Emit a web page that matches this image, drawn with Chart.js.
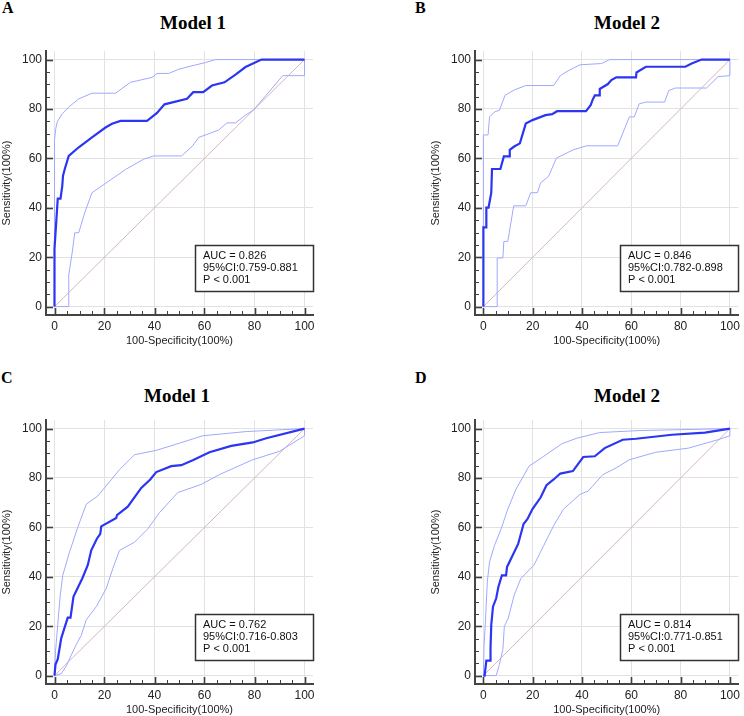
<!DOCTYPE html>
<html><head><meta charset="utf-8">
<script src="https://cdn.jsdelivr.net/npm/chart.js@4.4.1/dist/chart.umd.min.js"></script>
<style>
html,body{margin:0;padding:0;background:#fff;overflow:hidden;}
#wrap{position:relative;width:744px;height:716px;overflow:hidden;background:#fff;}
canvas{position:absolute;}
.lbl{position:absolute;font-family:"Liberation Serif","Times New Roman",serif;font-weight:bold;line-height:1;white-space:nowrap;color:#000;}
.letter{font-size:16px;}
.title{font-size:19px;transform:translateX(-50%);}
</style></head><body><div id="wrap"></div>
<script>
// ---------- data ----------
const TICK_VALUES = [0, 20, 40, 60, 80, 100];
const TICK_LABELS = ['0', '20', '40', '60', '80', '100'];
const TICK_MARKS = [0,5,10,15,20,25,30,35,40,45,50,55,60,65,70,75,80,85,90,95,100];
const X_TITLE = '100-Specificity(100%)';
const Y_TITLE = 'Sensitivity(100%)';
const DIAG = [[0,0],[100,100]];

const A_ROC = [[0,0],[0,23.5],[1.3,43.7],[2.4,43.7],[3.1,48.8],[3.4,53],[4.2,56],[5.7,61],[9.7,64.5],[15,68.5],[20.4,72.5],[23,74],[26.4,75.2],[37,75.2],[41,78.4],[44,81.9],[53,84.1],[55.5,86.8],[59.5,86.8],[63,89.5],[68,90.8],[72.4,93.9],[76.4,97],[82.8,100],[100,100]];
const A_UPPER = [[0,0],[0,67.5],[0.5,72],[1.1,74.8],[3.1,78.1],[5.7,80.8],[9.7,84.1],[15,86.4],[24.4,86.4],[30.4,90.8],[39,92.8],[41,94.4],[45.7,94.4],[49.7,96.1],[55,97.5],[60.4,98.8],[64.4,100],[100,100]];
const A_LOWER = [[0,0],[5.7,0],[5.7,12.8],[7.1,22.1],[8.1,29.9],[9.7,29.9],[12.1,38.1],[15,46.1],[21.7,50.8],[28.4,55.5],[35.7,59.7],[39.7,61],[50.8,61],[55,64.8],[57.7,68.5],[65.7,71.5],[69,74.4],[72.4,74.4],[76.4,77.5],[79.7,79.7],[91.3,93.5],[100,93.5],[100,100]];
const A_STATS = ['AUC = 0.826', '95%CI:0.759-0.881', 'P < 0.001'];

const B_ROC = [[0,0],[0,32.1],[1.2,32.1],[1.2,40.1],[2.1,40.1],[3.2,46.1],[3.5,55.7],[6.9,55.7],[8.3,60.8],[10.4,60.8],[10.7,63.5],[12.5,64.8],[14.8,66.1],[17.2,74.1],[19.9,75.5],[25.2,77.5],[27.9,77.9],[29.9,79.1],[41.6,79.1],[43.5,81.5],[44.3,83.7],[45.2,85.5],[46.9,85.5],[47.2,88.1],[50.5,90.1],[51.9,91.7],[53.9,92.8],[61.9,92.8],[62.1,94.8],[65.9,97.1],[81.9,97.1],[84.5,98.4],[88.5,100],[100,100]];
const B_UPPER = [[0,0],[0,69.5],[1.9,69.5],[2.5,76.8],[4.5,78.8],[6.5,79.5],[8.8,85.5],[12.5,87.7],[17.2,89.5],[28.5,89.5],[31.2,93.5],[33.9,95.2],[39.2,97.9],[47.9,98.4],[51.2,100],[100,100]];
const B_LOWER = [[0,0],[5.6,0],[5.6,19.7],[7.9,19.7],[8.3,26.4],[9.9,26.4],[12.3,40.8],[17.2,40.8],[19.2,46.1],[21.9,46.1],[23.2,50.1],[26.5,52.8],[29.6,60.1],[36.5,63.5],[41.9,65.1],[54.5,65.1],[59.2,76.8],[61.2,76.8],[63.2,82.1],[65.9,82.8],[73.5,82.8],[75.2,87.5],[77.9,88.5],[90.5,88.5],[95.2,93.1],[100,93.5],[100,100]];
const B_STATS = ['AUC = 0.846', '95%CI:0.782-0.898', 'P < 0.001'];

const C_ROC = [[0,0],[0.4,4.5],[1.3,6.6],[2.7,15.2],[5.3,23.5],[6.4,23.5],[7.6,32],[11.1,39.3],[13.3,44.7],[14.7,50.7],[16.9,55.3],[18.3,57.4],[18.7,60.4],[24.7,63.8],[25,65],[29.3,68.4],[34.7,76],[38.3,79.4],[40.7,82.4],[46.7,84.8],[50.7,85.2],[55.3,87.2],[62,90.4],[70.7,93],[79.3,94.4],[84.7,96.1],[100,100]];
const C_UPPER = [[0,0],[0.4,9.9],[1.3,20.6],[2.3,32.6],[3.3,40.6],[6,50],[9.3,60],[12.7,69.4],[17.3,72.7],[20,76],[26,83.4],[32,89.4],[40.7,91.2],[50,94.1],[59.3,97.1],[76.7,98.8],[100,100]];
const C_LOWER = [[0,0],[2.7,0.8],[4.7,3.9],[8.7,12.6],[10.7,16.3],[12.7,22.6],[16.7,27.9],[20.7,35.3],[23.3,43.3],[26,50.7],[32,54],[37.3,59.4],[42,66],[49.3,74.1],[58.7,77.4],[66,81.4],[79.3,87.4],[90,90.8],[100,97.1],[100,100]];
const C_STATS = ['AUC = 0.762', '95%CI:0.716-0.803', 'P < 0.001'];

const D_ROC = [[0,0],[0.5,0],[1.2,6.1],[2.9,6.1],[2.9,11.2],[3.2,20.6],[3.9,27.9],[5.2,31.3],[6.1,36],[7.5,40.6],[9.2,40.6],[9.6,44],[11.2,47.3],[14.1,53.3],[16.3,61.4],[17.9,63.4],[19.9,67.4],[23.2,72.1],[25.6,77.1],[28.5,79.4],[31.2,81.8],[36.3,82.8],[40.5,88.5],[45.2,88.8],[49.2,92.1],[56.5,95.5],[61.9,95.9],[76.5,97.5],[89.9,98.4],[100,100]];
const D_UPPER = [[0,0],[0.3,12.6],[0.9,23.3],[1.6,38],[2.5,46],[4.5,52.7],[7.2,59.4],[9.9,67.4],[13.2,75.4],[18.5,84.8],[24.5,88.8],[31.9,93.9],[37.9,96.1],[47.2,98.4],[63.2,99.2],[100,100]];
const D_LOWER = [[0,0],[5.2,0],[6.5,4.5],[7.9,10.6],[8.5,19.9],[10.1,23.3],[12.5,32.6],[15.2,39.3],[20.5,44.7],[24.5,52.7],[28.5,60.7],[32.5,67.4],[39.2,73.4],[42.5,74.7],[48.5,81.4],[53.9,84.1],[59.2,87.4],[69.9,90.4],[83.2,92.1],[95.2,95.5],[100,97.1],[100,100]];
const D_STATS = ['AUC = 0.814', '95%CI:0.771-0.851', 'P < 0.001'];

const PANEL_LETTERS = ['A', 'B', 'C', 'D'];
const PANEL_TITLES = ['Model 1', 'Model 2', 'Model 1', 'Model 2'];

// ---------- layout ----------
const LAYOUT = [
  {left:0,   top:40,  w:330, h:308, padR:17, letterX:2,   letterY:0,   titleX:193, titleY:13.4},
  {left:429, top:40,  w:315, h:308, padR:2,  letterX:415, letterY:0,   titleX:627, titleY:13.4},
  {left:0,   top:409, w:330, h:308, padR:17, letterX:1,   letterY:370, titleX:177, titleY:386.4},
  {left:429, top:409, w:315, h:308, padR:2,  letterX:415, letterY:370, titleX:627, titleY:386.4}
];
const SERIES = [
  [A_ROC, A_UPPER, A_LOWER, A_STATS],
  [B_ROC, B_UPPER, B_LOWER, B_STATS],
  [C_ROC, C_UPPER, C_LOWER, C_STATS],
  [D_ROC, D_UPPER, D_LOWER, D_STATS]
];

const toXY = arr => arr.map(p => ({x: p[0], y: p[1]}));

const tickPlugin = {
  id: 'inTicks',
  afterDatasetsDraw(chart) {
    const {ctx, chartArea: a, scales: {x, y}} = chart;
    ctx.save();
    ctx.strokeStyle = '#3f3f3f';
    for (const v of TICK_MARKS) {
      const major = TICK_VALUES.includes(v);
      const len = major ? 7 : 4;
      ctx.lineWidth = major ? 1.6 : 1;
      const px = Math.round(x.getPixelForValue(v)) + 0.5;
      ctx.beginPath(); ctx.moveTo(px, a.bottom); ctx.lineTo(px, a.bottom - len); ctx.stroke();
      const py = Math.round(y.getPixelForValue(v)) + 0.5;
      ctx.beginPath(); ctx.moveTo(a.left, py); ctx.lineTo(a.left + len, py); ctx.stroke();
    }
    ctx.restore();
  }
};

const statsPlugin = {
  id: 'statsBox',
  afterDatasetsDraw(chart, args, opts) {
    const {ctx, chartArea: a} = chart;
    const w = 118, h = 46;
    const x0 = Math.round(a.right - w) + 0.5, y0 = Math.round(a.bottom - 24 - h) + 0.5;
    ctx.save();
    ctx.fillStyle = '#fff';
    ctx.fillRect(x0, y0, w, h);
    ctx.strokeStyle = '#333';
    ctx.lineWidth = 1.5;
    ctx.strokeRect(x0, y0, w, h);
    ctx.fillStyle = '#111';
    ctx.font = '11px "Liberation Sans", Arial, sans-serif';
    ctx.textBaseline = 'middle';
    ctx.textAlign = 'left';
    opts.lines.forEach((t, i) => ctx.fillText(t, x0 + 7.5, y0 + 10.5 + 12 * i));
    ctx.restore();
  }
};

const wrap = document.getElementById('wrap');
const fixTicks = s => { s.ticks = TICK_VALUES.map(v => ({value: v})); };
const tickFont = {family: '"Liberation Sans", Arial, sans-serif', size: 12};
const titleFont = {family: '"Liberation Sans", Arial, sans-serif', size: 11};

LAYOUT.forEach((L, i) => {
  const [roc, up, lo, stats] = SERIES[i];
  const c = document.createElement('canvas');
  c.width = L.w; c.height = L.h;
  c.style.left = L.left + 'px'; c.style.top = L.top + 'px';
  c.style.width = L.w + 'px'; c.style.height = L.h + 'px';
  wrap.appendChild(c);

  const letter = document.createElement('div');
  letter.className = 'lbl letter';
  letter.style.left = L.letterX + 'px'; letter.style.top = L.letterY + 'px';
  letter.textContent = PANEL_LETTERS[i];
  wrap.appendChild(letter);

  const title = document.createElement('div');
  title.className = 'lbl title';
  title.style.left = L.titleX + 'px'; title.style.top = L.titleY + 'px';
  title.textContent = PANEL_TITLES[i];
  wrap.appendChild(title);

  new Chart(c, {
    type: 'scatter',
    data: {datasets: [
      {data: toXY(roc), showLine: true, borderColor: '#2b35f2', borderWidth: 2.2, order: 0},
      {data: toXY(up), showLine: true, borderColor: '#a0a8ff', borderWidth: 1, order: 1},
      {data: toXY(lo), showLine: true, borderColor: '#a0a8ff', borderWidth: 1, order: 1},
      {data: toXY(DIAG), showLine: true, borderColor: '#d8b4bf', borderWidth: 1, order: 2}
    ]},
    options: {
      responsive: false,
      animation: false,
      devicePixelRatio: 1,
      elements: {point: {radius: 0, hoverRadius: 0}, line: {tension: 0}},
      layout: {padding: {top: 8, right: L.padR, left: 0, bottom: 0}},
      plugins: {legend: {display: false}, tooltip: {enabled: false}, statsBox: {lines: stats}},
      scales: {
        x: {
          type: 'linear', min: -3.4, max: 103.4,
          afterBuildTicks: fixTicks,
          afterFit: s => { s.height = 33; },
          grid: {color: '#e2e2e2', lineWidth: 1, drawTicks: false},
          border: {color: '#444', width: 2},
          ticks: {padding: 4, font: tickFont, color: '#222', callback: (v, idx) => TICK_LABELS[idx]},
          title: {display: true, text: X_TITLE, font: titleFont, color: '#222', padding: {top: 0, bottom: 0}}
        },
        y: {
          type: 'linear', min: -3.4, max: 103.4,
          afterBuildTicks: fixTicks,
          afterFit: s => { s.width = 46; },
          grid: {color: '#e2e2e2', lineWidth: 1, drawTicks: false},
          border: {color: '#444', width: 2},
          ticks: {padding: 4, font: tickFont, color: '#222', callback: (v, idx) => TICK_LABELS[idx]},
          title: {display: true, text: Y_TITLE, font: titleFont, color: '#222', padding: {top: 0, bottom: 0}}
        }
      }
    },
    plugins: [tickPlugin, statsPlugin]
  });
});
</script>
</body></html>
